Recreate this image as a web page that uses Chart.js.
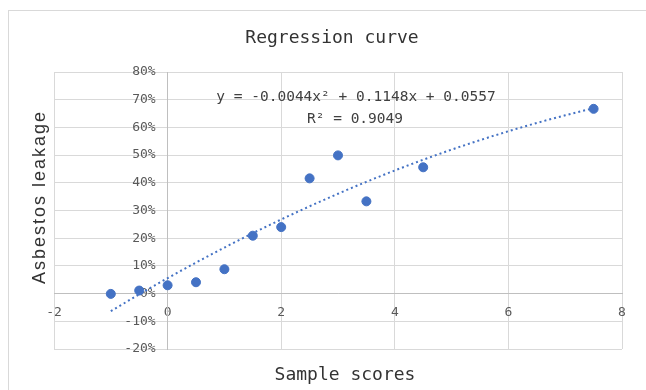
<!DOCTYPE html>
<html>
<head>
<meta charset="utf-8">
<script src="https://cdn.jsdelivr.net/npm/chart.js@4/dist/chart.umd.min.js"></script>
<style>
html,body{margin:0;padding:0;background:#fff;}
#wrap{width:646px;height:390px;position:relative;}
</style>
</head>
<body>
<div id="wrap"><canvas id="c" width="646" height="390"></canvas></div>
<script>
// ---- data ----
const sampleScores = [-1, -0.5, 0, 0.5, 1, 1.5, 2, 2.5, 3, 3.5, 4.5, 7.5];
const leakage = [-0.001, 0.011, 0.030, 0.041, 0.088, 0.209, 0.240, 0.416, 0.499, 0.333, 0.456, 0.667];

// trend curve values (as given by the printed regression equation)
const trendX = [-1, -0.5, 0, 0.5, 1, 1.5, 2, 2.5, 3, 3.5, 4, 4.5, 5, 5.5, 6, 6.5, 7, 7.5];
const trendY = [-0.0635, -0.0028, 0.0557, 0.1120, 0.1661, 0.2180, 0.2677, 0.3152, 0.3605, 0.4036, 0.4445, 0.4832, 0.5197, 0.5540, 0.5861, 0.6160, 0.6437, 0.6692];

const xTicks = [-2, 0, 2, 4, 6, 8];
const yTicks = [-0.2, -0.1, 0, 0.1, 0.2, 0.3, 0.4, 0.5, 0.6, 0.7, 0.8];

const chartTitle = 'Regression curve';
const xTitle = 'Sample scores';
const yTitle = 'Asbestos leakage';
const equationText = 'y = -0.0044x² + 0.1148x + 0.0557';
const r2Text = 'R² = 0.9049';

const MONO = '"DejaVu Sans Mono", "Liberation Mono", monospace';
const SANS = '"Liberation Sans", Arial, sans-serif';

const textPlugin = {
  id: 'texts',
  beforeDraw(chart) {
    const ctx = chart.ctx;
    ctx.save();
    ctx.fillStyle = '#ffffff';
    ctx.fillRect(0, 0, chart.width, chart.height);
    ctx.strokeStyle = '#d9d9d9';
    ctx.lineWidth = 1;
    ctx.strokeRect(8.5, 10.5, 800, 600);
    ctx.restore();
  },
  afterDraw(chart) {
    const ctx = chart.ctx;
    ctx.save();
    ctx.textAlign = 'center';
    ctx.textBaseline = 'middle';
    // main title
    ctx.fillStyle = '#333333';
    ctx.font = '18px ' + MONO;
    ctx.fillText(chartTitle, 332, 38);
    // x axis title
    ctx.fillText(xTitle, 345, 375);
    // equation label
    ctx.fillStyle = '#404040';
    ctx.font = '14.5px ' + MONO;
    ctx.fillText(equationText, 356, 97);
    ctx.fillText(r2Text, 355, 119);
    // y axis title
    ctx.save();
    ctx.fillStyle = '#333333';
    ctx.translate(40, 197);
    ctx.rotate(-Math.PI / 2);
    ctx.font = '18px ' + SANS;
    if ('letterSpacing' in ctx) ctx.letterSpacing = '2px';
    ctx.fillText(yTitle, 0, 0);
    ctx.restore();
    ctx.restore();
  }
};

const ctx = document.getElementById('c').getContext('2d');
new Chart(ctx, {
  type: 'scatter',
  data: {
    datasets: [
      {
        type: 'line',
        label: 'Trend',
        data: trendX.map((x, i) => ({ x: x, y: trendY[i] })),
        borderColor: '#4472C4',
        borderWidth: 2,
        borderDash: [2, 3],
        pointRadius: 0,
        fill: false,
        cubicInterpolationMode: 'monotone',
        order: 2
      },
      {
        label: 'Asbestos leakage',
        data: sampleScores.map((x, i) => ({ x: x, y: leakage[i] })),
        backgroundColor: '#4472C4',
        borderColor: '#4472C4',
        borderWidth: 1,
        pointRadius: 4.5,
        pointHoverRadius: 4.5,
        order: 1
      }
    ]
  },
  options: {
    responsive: false,
    animation: false,
    devicePixelRatio: 1,
    layout: { padding: { left: 54, right: 24, top: 72, bottom: 41 } },
    plugins: { legend: { display: false }, tooltip: { enabled: false }, title: { display: false } },
    scales: {
      x: {
        type: 'linear',
        min: -2, max: 8,
        position: { y: 0 },
        afterBuildTicks: axis => { axis.ticks = xTicks.map(v => ({ value: v })); },
        grid: { color: '#d9d9d9', lineWidth: 1, drawTicks: false },
        border: { color: '#bfbfbf', width: 1 },
        ticks: { color: '#595959', font: { family: MONO, size: 13 }, padding: 11, maxRotation: 0 }
      },
      y: {
        type: 'linear',
        min: -0.2, max: 0.8,
        position: { x: 0 },
        afterBuildTicks: axis => { axis.ticks = yTicks.map(v => ({ value: v })); },
        grid: { color: '#d9d9d9', lineWidth: 1, drawTicks: false },
        border: { color: '#bfbfbf', width: 1 },
        ticks: { display: false }
      },
      yLabels: {
        type: 'linear',
        axis: 'y',
        min: -0.2, max: 0.8,
        position: { x: -0.21 },
        afterBuildTicks: axis => { axis.ticks = yTicks.map(v => ({ value: v })); },
        grid: { display: false, drawTicks: false },
        border: { display: false },
        ticks: {
          color: '#595959', font: { family: MONO, size: 13 },
          callback: v => Math.round(v * 100) + '%'
        }
      }
    }
  },
  plugins: [textPlugin]
});
</script>
</body>
</html>
